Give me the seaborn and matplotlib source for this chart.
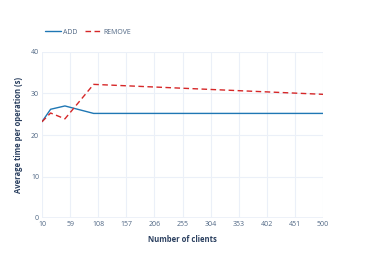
import pandas as pd
import matplotlib
matplotlib.use("Agg")
import matplotlib.pyplot as plt
import seaborn as sns

# values
clients = [10, 25, 50, 100, 500]
add_times = [23.2, 26.2, 27.0, 25.2, 25.2]
remove_times = [23.2, 25.3, 23.9, 32.2, 29.8]
x_ticks = [10, 59, 108, 157, 206, 255, 304, 353, 402, 451, 500]
y_ticks = [0, 10, 20, 30, 40]

df = pd.DataFrame({
    "clients": clients * 2,
    "time": add_times + remove_times,
    "op": ["ADD"] * len(clients) + ["REMOVE"] * len(clients),
})

sns.set_style("white")
plt.rcParams["font.family"] = ["Open Sans", "DejaVu Sans"]

fig = plt.figure(figsize=(3.68, 2.63), dpi=100)
ax = fig.add_axes([42 / 368, 1 - 218 / 263, 281 / 368, 166 / 263])

sns.lineplot(data=df, x="clients", y="time", hue="op", style="op",
             palette={"ADD": "#1f77b4", "REMOVE": "#d62728"},
             dashes={"ADD": "", "REMOVE": (4, 2.5)},
             linewidth=1.0, ax=ax, legend=False)

ax.set_xlim(10, 500)
ax.set_ylim(0, 40)
ax.set_xticks(x_ticks)
ax.set_yticks(y_ticks)
ax.grid(True, color="#ebf0f8", linewidth=0.8)
ax.set_axisbelow(True)
for s in ax.spines.values():
    s.set_visible(False)
ax.axhline(0, color="#ebf0f8", linewidth=1.2, zorder=0)
ax.tick_params(axis="both", length=0, labelsize=5, labelcolor="#506784", pad=2)

ax.set_xlabel("Number of clients", fontsize=5.5, fontweight="bold", color="#2a3f5f", labelpad=5)
ax.set_ylabel("Average time per operation (s)", fontsize=5.5, fontweight="bold", color="#2a3f5f", labelpad=6)

# legend drawn horizontally above the plot
handles = [plt.Line2D([], [], color="#1f77b4", linewidth=1.0),
           plt.Line2D([], [], color="#d62728", linewidth=1.0, dashes=(4, 2.5))]
fig.legend(handles, ["ADD", "REMOVE"], loc="center left",
           bbox_to_anchor=(40 / 368, 1 - 32 / 263), ncol=2, frameon=False,
           fontsize=5, labelcolor="#506784", handlelength=2.3, columnspacing=1.0,
           handletextpad=0.35, borderpad=0.2)

fig.savefig("out.png", dpi=100)
